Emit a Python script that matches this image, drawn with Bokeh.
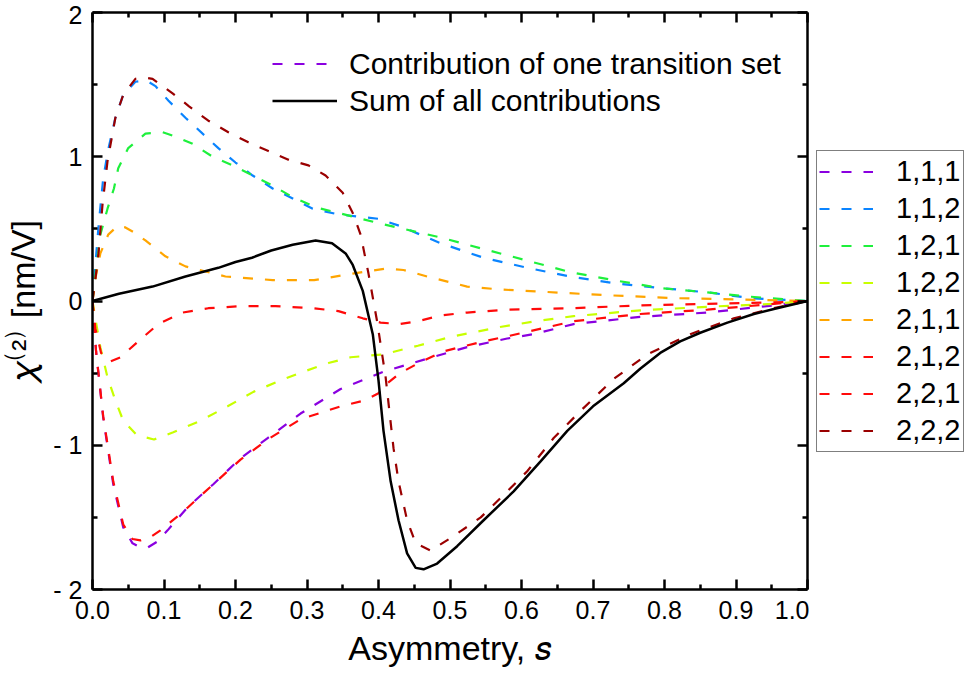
from bokeh.embed import file_html
from bokeh.layouts import row
from bokeh.models import (FixedTicker, Legend, LegendItem, LinearAxis,
                          PrintfTickFormatter, Range1d)
from bokeh.plotting import figure
from bokeh.resources import INLINE

# ---- axes -------------------------------------------------------------
x_ticks = [0.0, 0.1, 0.2, 0.3, 0.4, 0.5, 0.6, 0.7, 0.8, 0.9, 1.0]
x_minor = [0.05, 0.15, 0.25, 0.35, 0.45, 0.55, 0.65, 0.75, 0.85, 0.95]
y_ticks = [-2, -1, 0, 1, 2]
y_tick_labels = ["- 2", "- 1", "0", "1", "2"]
y_minor = [-1.5, -0.5, 0.5, 1.5]
x_title = "Asymmetry, 𝑠"
y_title = "𝜒⁽²⁾ [nm/V]"

# ---- chi(2) contributions of each transition set vs asymmetry s --------
s_111 = [0, 0.005, 0.015, 0.029, 0.043, 0.056, 0.068, 0.077, 0.09, 0.105, 0.133,
         0.169, 0.207, 0.245, 0.291, 0.347, 0.407, 0.468, 0.524, 0.58, 0.617,
         0.673, 0.766, 0.86, 0.953, 1.0]
v_111 = [0, -0.35, -0.81, -1.27, -1.57, -1.68, -1.71, -1.71, -1.67, -1.59, -1.43,
         -1.27, -1.09, -0.95, -0.78, -0.61, -0.49, -0.40, -0.32, -0.26, -0.23,
         -0.16, -0.11, -0.08, -0.03, 0]

s_112 = [0, 0.004, 0.009, 0.015, 0.022, 0.032, 0.043, 0.06, 0.075, 0.088, 0.106,
         0.13, 0.154, 0.176, 0.2, 0.224, 0.252, 0.28, 0.308, 0.344, 0.4, 0.43,
         0.487, 0.547, 0.608, 0.668, 0.734, 0.794, 0.86, 0.92, 1.0]
v_112 = [0, 0.25, 0.55, 0.85, 1.05, 1.27, 1.43, 1.52, 1.53, 1.49, 1.39,
         1.27, 1.16, 1.06, 0.96, 0.87, 0.78, 0.71, 0.64, 0.60, 0.57, 0.52,
         0.40, 0.30, 0.23, 0.17, 0.12, 0.09, 0.06, 0.02, 0]

s_121 = [0, 0.005, 0.011, 0.021, 0.03, 0.036, 0.05, 0.074, 0.098, 0.116, 0.14,
         0.168, 0.196, 0.224, 0.252, 0.28, 0.312, 0.344, 0.4, 0.487, 0.547,
         0.608, 0.668, 0.734, 0.794, 0.86, 0.92, 1.0]
v_121 = [0, 0.22, 0.46, 0.64, 0.78, 0.92, 1.06, 1.16, 1.17, 1.14, 1.09,
         1.0, 0.94, 0.87, 0.80, 0.72, 0.65, 0.61, 0.54, 0.44, 0.36,
         0.28, 0.20, 0.14, 0.09, 0.06, 0.03, 0]

s_122 = [0, 0.005, 0.011, 0.021, 0.032, 0.043, 0.062, 0.086, 0.113, 0.151, 0.189,
         0.225, 0.263, 0.295, 0.33, 0.361, 0.407, 0.455, 0.5, 0.57, 0.627,
         0.673, 0.766, 0.86, 0.953, 1.0]
v_122 = [0, -0.15, -0.32, -0.53, -0.69, -0.83, -0.93, -0.96, -0.91, -0.83, -0.73,
         -0.63, -0.55, -0.49, -0.43, -0.39, -0.37, -0.31, -0.25, -0.18, -0.135,
         -0.105, -0.065, -0.04, -0.02, 0]

s_211 = [0, 0.005, 0.011, 0.022, 0.035, 0.046, 0.06, 0.074, 0.102, 0.13, 0.186,
         0.252, 0.31, 0.364, 0.41, 0.435, 0.468, 0.524, 0.57, 0.627, 0.72,
         0.813, 0.906, 1.0]
v_211 = [0, 0.18, 0.33, 0.46, 0.52, 0.51, 0.47, 0.42, 0.31, 0.24, 0.17,
         0.145, 0.145, 0.19, 0.225, 0.215, 0.17, 0.10, 0.08, 0.065, 0.04,
         0.02, 0.01, 0]

s_212 = [0, 0.004, 0.012, 0.025, 0.039, 0.064, 0.092, 0.126, 0.162, 0.21, 0.256,
         0.308, 0.344, 0.378, 0.403, 0.43, 0.455, 0.487, 0.524, 0.58, 0.673,
         0.766, 0.86, 0.953, 1.0]
v_212 = [0, -0.19, -0.36, -0.42, -0.39, -0.28, -0.16, -0.08, -0.05, -0.035, -0.035,
         -0.05, -0.07, -0.12, -0.15, -0.16, -0.14, -0.10, -0.08, -0.06, -0.05,
         -0.03, -0.02, -0.01, 0]

s_221 = [0, 0.005, 0.015, 0.029, 0.043, 0.056, 0.067, 0.08, 0.095, 0.127, 0.169,
         0.207, 0.245, 0.291, 0.347, 0.38, 0.40, 0.41, 0.43, 0.46, 0.49,
         0.547, 0.58, 0.673, 0.766, 0.86, 0.953, 1.0]
v_221 = [0, -0.35, -0.80, -1.25, -1.55, -1.65, -1.66, -1.64, -1.59, -1.46, -1.27,
         -1.10, -0.96, -0.82, -0.73, -0.69, -0.64, -0.58, -0.50, -0.42, -0.35,
         -0.28, -0.245, -0.14, -0.09, -0.06, -0.02, 0]

s_222 = [0, 0.004, 0.0084, 0.014, 0.021, 0.032, 0.043, 0.06, 0.072, 0.084, 0.112,
         0.135, 0.162, 0.19, 0.218, 0.246, 0.274, 0.302, 0.326, 0.35, 0.364,
         0.375, 0.386, 0.398, 0.41, 0.421, 0.428, 0.44, 0.452, 0.473, 0.505,
         0.543, 0.58, 0.608, 0.645, 0.683, 0.729, 0.776, 0.836, 0.897, 0.953, 1.0]
v_222 = [0, 0.15, 0.33, 0.67, 0.97, 1.27, 1.43, 1.54, 1.55, 1.54, 1.44,
         1.35, 1.25, 1.17, 1.10, 1.04, 0.98, 0.94, 0.87, 0.75, 0.61,
         0.46, 0.19, -0.14, -0.53, -1.02, -1.25, -1.52, -1.68, -1.73, -1.63,
         -1.50, -1.32, -1.18, -0.95, -0.76, -0.54, -0.37, -0.23, -0.12, -0.05, 0]

s_sum = [0, 0.037, 0.084, 0.13, 0.176, 0.2, 0.223, 0.25, 0.28, 0.312, 0.335,
         0.354, 0.364, 0.378, 0.392, 0.40, 0.407, 0.417, 0.428, 0.44, 0.452,
         0.463, 0.482, 0.51, 0.547, 0.589, 0.627, 0.664, 0.70, 0.743, 0.766,
         0.794, 0.822, 0.85, 0.888, 0.925, 0.953, 1.0]
v_sum = [0, 0.05, 0.10, 0.17, 0.23, 0.27, 0.30, 0.35, 0.39, 0.42, 0.40,
         0.33, 0.25, 0.07, -0.23, -0.55, -0.90, -1.25, -1.52, -1.75, -1.85,
         -1.86, -1.82, -1.70, -1.52, -1.32, -1.11, -0.90, -0.73, -0.57, -0.47,
         -0.36, -0.28, -0.22, -0.15, -0.09, -0.055, 0]

set_labels = ["1,1,1", "1,1,2", "1,2,1", "1,2,2", "2,1,1", "2,1,2", "2,2,1", "2,2,2"]
set_s = [s_111, s_112, s_121, s_122, s_211, s_212, s_221, s_222]
set_v = [v_111, v_112, v_121, v_122, v_211, v_212, v_221, v_222]
set_colors = ["#8A00E0", "#0A84FF", "#1EF03C", "#C8FF00",
              "#FFA500", "#FF0A0A", "#FF0A0A", "#9A0000"]

FONT = "Liberation Sans"
DASH = "10 12"

# ---- main plot ----------------------------------------------------------
p = figure(width=809, height=677, output_backend="svg", toolbar_location=None,
           x_range=Range1d(0, 1), y_range=Range1d(-2, 2),
           x_axis_type=None, y_axis_type=None,
           min_border_left=92, min_border_right=2,
           min_border_top=12, min_border_bottom=88)
p.outline_line_color = None
p.background_fill_color = "white"
p.border_fill_color = "white"


def make_axis(ticks, minor, show):
    ax = LinearAxis(ticker=FixedTicker(ticks=ticks, minor_ticks=minor))
    ax.axis_line_width = 2.5
    ax.major_tick_line_width = 2.5
    ax.minor_tick_line_width = 2.5
    ax.major_tick_in = 10
    ax.major_tick_out = 0
    ax.minor_tick_in = 5
    ax.minor_tick_out = 0
    ax.major_label_text_font = FONT
    ax.major_label_text_color = "black"
    ax.axis_label_text_font = FONT
    ax.axis_label_text_font_style = "normal"
    ax.axis_label_text_color = "black"
    ax.axis_label_text_font_size = "34px"
    if show:
        ax.major_label_text_font_size = "25px"
    else:
        ax.major_label_text_font_size = "0px"
        ax.major_label_text_alpha = 0
        ax.major_label_standoff = 0
    return ax


xb = make_axis(x_ticks, x_minor, True)
xb.formatter = PrintfTickFormatter(format="%.1f")
xb.major_label_standoff = 11
xb.axis_label = x_title
xb.axis_label_standoff = 7
yl = make_axis(y_ticks, y_minor, True)
yl.major_label_overrides = dict(zip(y_ticks, y_tick_labels))
yl.major_label_standoff = 10
yl.axis_label = y_title
yl.axis_label_standoff = 8
xt = make_axis(x_ticks, x_minor, False)
yr = make_axis(y_ticks, y_minor, False)
p.add_layout(xb, "below")
p.add_layout(yl, "left")
p.add_layout(xt, "above")
p.add_layout(yr, "right")

renderers = []
for s, v, c in zip(set_s, set_v, set_colors):
    r = p.line(s, v, line_color=c, line_width=2.2, line_dash=DASH)
    renderers.append(r)
r_sum = p.line(s_sum, v_sum, line_color="black", line_width=2.5)

# legend explaining dashed vs solid lines
kind_legend = Legend(
    items=[LegendItem(label="Contribution of one transition set", renderers=[renderers[0]]),
           LegendItem(label="Sum of all contributions", renderers=[r_sum])],
    location=(180, 470), orientation="vertical",
    label_text_font=FONT, label_text_font_size="30px", label_text_color="black",
    glyph_width=65, glyph_height=37, label_height=37,
    label_standoff=12, padding=0, spacing=0, margin=0,
    border_line_color=None, background_fill_alpha=0,
)
p.add_layout(kind_legend, "center")

# ---- key of the transition sets, in a strip right of the plot ----------
# the strip's own x range lies beyond s = 1, so its copies of the series
# only supply the legend swatches and draw nothing in the strip itself
key = figure(width=157, height=677, output_backend="svg", toolbar_location=None,
             x_range=Range1d(2, 3), y_range=Range1d(-2, 2),
             x_axis_type=None, y_axis_type=None,
             min_border_left=0, min_border_right=0,
             min_border_top=12, min_border_bottom=88)
key.outline_line_color = None
key.background_fill_color = "white"
key.border_fill_color = "white"
key_renderers = [key.line(s, v, line_color=c, line_width=2.2, line_dash=DASH)
                 for s, v, c in zip(set_s, set_v, set_colors)]

set_legend = Legend(
    items=[LegendItem(label=lab, renderers=[r]) for lab, r in zip(set_labels, key_renderers)],
    location="left", orientation="vertical",
    label_text_font=FONT, label_text_font_size="29px", label_text_color="black",
    glyph_width=54, glyph_height=37, label_height=37,
    label_standoff=23, padding=2, spacing=0, margin=7,
    border_line_color="black", border_line_width=1,
    background_fill_color="white", background_fill_alpha=1,
)
key.add_layout(set_legend, "center")

layout = row(p, key, spacing=0)
open("out.html", "w").write(file_html(layout, INLINE))
